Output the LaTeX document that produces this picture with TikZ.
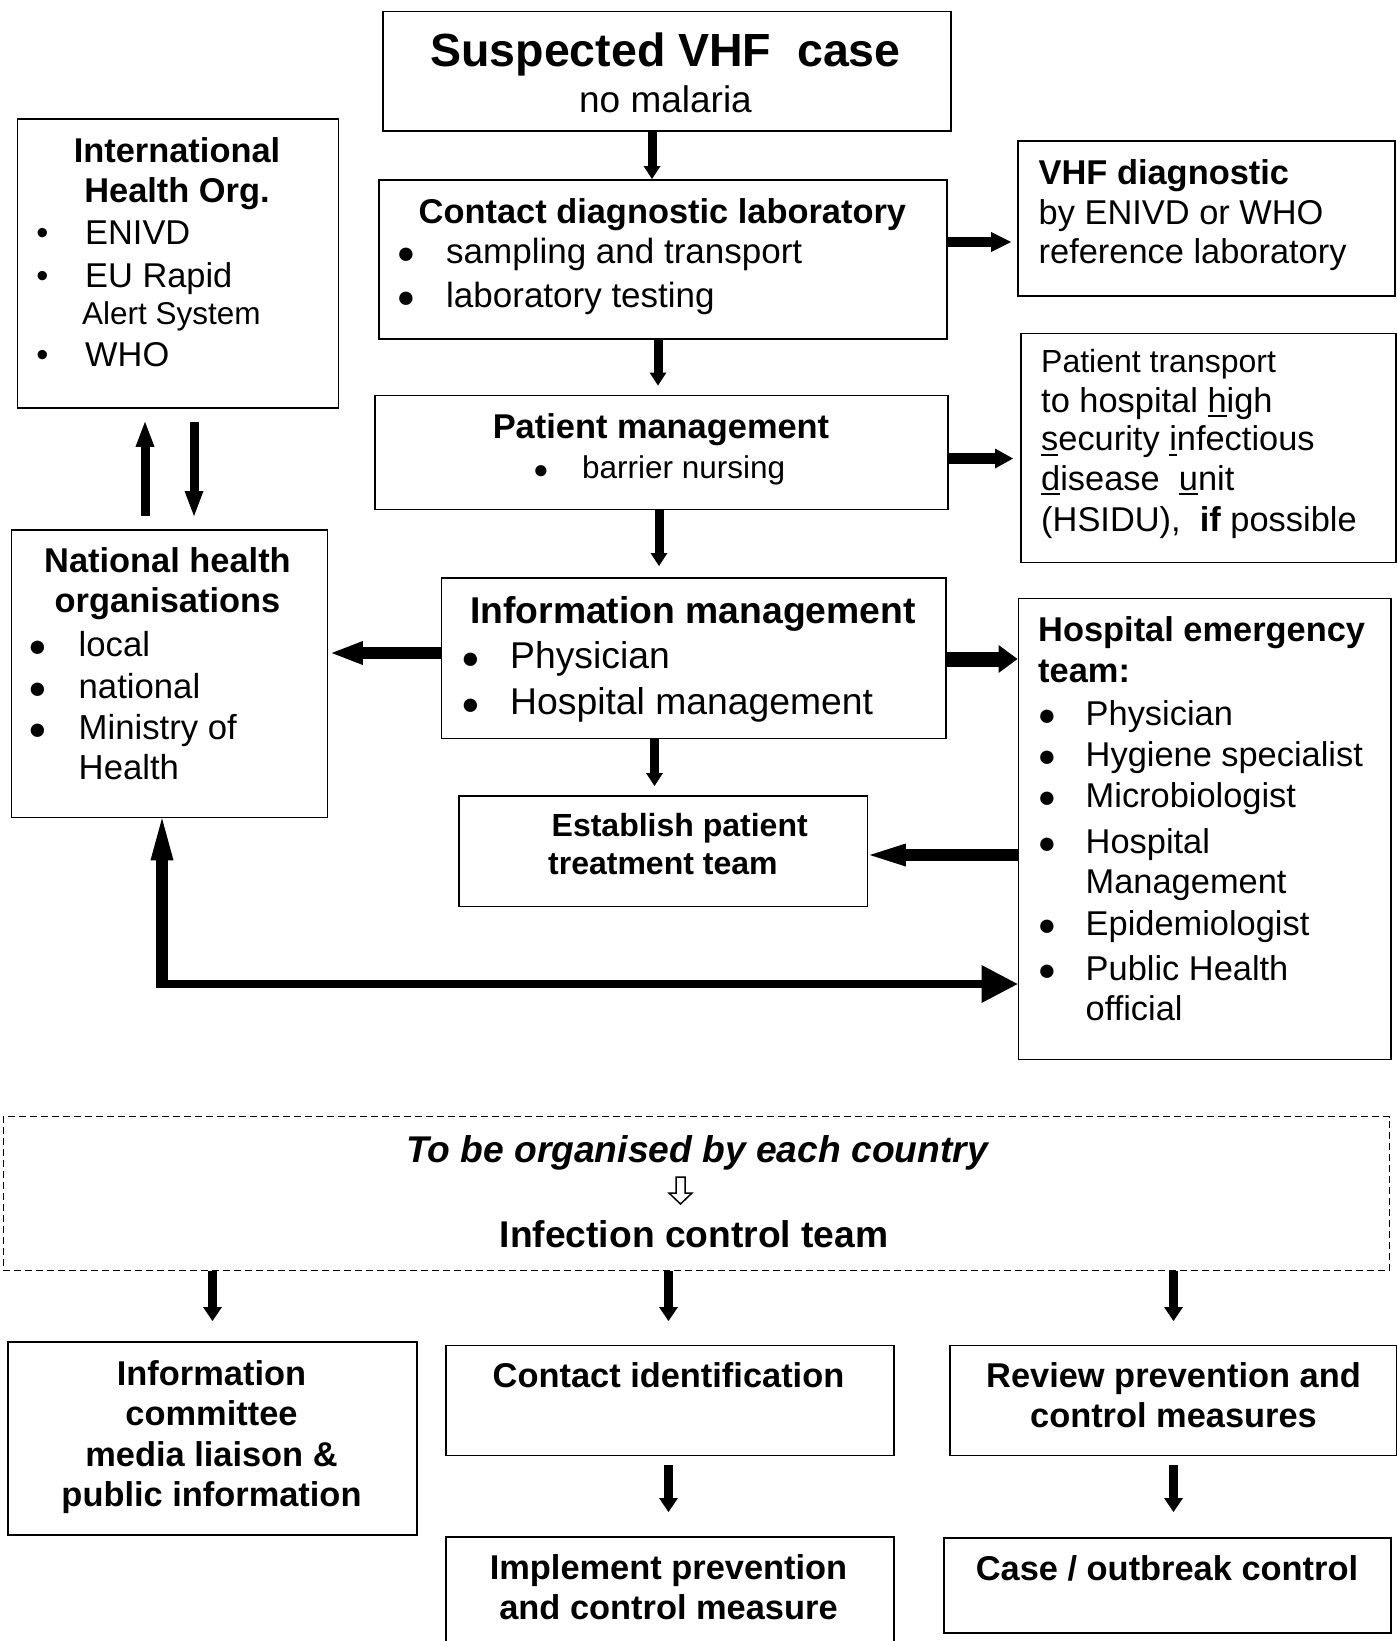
\documentclass[tikz,border=0pt]{standalone}
\usepackage{fontspec}
\setmainfont{Liberation Sans}
\usetikzlibrary{arrows.meta,calc}
\newcommand\fsz[1]{\fontsize{#1pt}{#1pt}\selectfont}
\newcommand\myul[1]{\setbox0\hbox{#1}\rlap{\rule[-5pt]{\wd0}{2pt}}\box0}
\begin{document}
\begin{tikzpicture}[x=1pt,y=-1pt,
  box/.style={draw,line width=1.8pt,rectangle,inner sep=0pt,anchor=north west},
  dbox/.style={box,line width=1.4pt,dash pattern=on 7pt off 4pt},
  tc/.style={inner sep=0pt,anchor=base,font=\fsz{34.4}},
  tl/.style={inner sep=0pt,anchor=base west,font=\fsz{34.4}},
  bc/.style={tc,font=\fsz{34.4}\bfseries},
  bl/.style={tl,font=\fsz{34.4}\bfseries},
  bu/.style={inner sep=0pt,anchor=base,font=\fsz{31}},
  arr/.style n args={3}{line width=#1,-{Triangle[length=#2,width=#3,line width=0pt]}}
]
\useasboundingbox (0,0) rectangle (1397,1641);
\fill[white] (0,0) rectangle (1397,1641);

% ---------- boxes ----------
\node[box,minimum width=568pt,minimum height=119.5pt] (susp) at (382,10.5) {};
\node[box,minimum width=568pt,minimum height=159pt] (contact) at (378,179) {};
\node[box,minimum width=573pt,minimum height=114pt] (pm) at (374,394.5) {};
\node[box,minimum width=504.5pt,minimum height=160.5pt] (info) at (440.5,577) {};
\node[box,minimum width=408.5pt,minimum height=110.5pt] (est) at (458,795) {};
\node[box,minimum width=377pt,minimum height=155pt] (vhf) at (1017,140) {};
\node[box,minimum width=375pt,minimum height=229pt] (pt) at (1020,332.5) {};
\node[box,minimum width=321pt,minimum height=289pt] (intl) at (16.5,118) {};
\node[box,minimum width=316pt,minimum height=287.5pt] (nat) at (10.5,529) {};
\node[box,minimum width=372.5pt,minimum height=461pt] (het) at (1017.5,597.5) {};
\node[dbox,minimum width=1386.5pt,minimum height=154pt] (dash) at (2.5,1116) {};
\node[box,minimum width=409pt,minimum height=193pt] (ic) at (7,1341) {};
\node[box,minimum width=448pt,minimum height=110pt] (cid) at (445,1344.5) {};
\node[box,minimum width=446.5pt,minimum height=110pt] (rev) at (949,1344.5) {};
\node[box,minimum width=448pt,minimum height=115pt] (imp) at (445,1536) {};
\node[box,minimum width=447pt,minimum height=95pt] (case) at (943,1537) {};

% ---------- texts ----------
\node[tc,font=\fsz{46.5}\bfseries] (s1) at (665.5,66.5) {Suspected VHF\ \ case};
\node[tc,font=\fsz{37}] (s2) at (665.5,112.5) {no malaria};

\node[bc] (c1) at (662.4,223) {Contact diagnostic laboratory};
\node[bu] (c2) at (406,263) {●};
\node[tl,font=\fsz{35}] (c3) at (446,263) {sampling and transport};
\node[bu] (c4) at (406,307) {●};
\node[tl,font=\fsz{35}] (c5) at (446,307) {laboratory testing};

\node[bc] (p1) at (661,438) {Patient management};
\node[bu,font=\fsz{26}] (p2) at (541,478) {●};
\node[tl,font=\fsz{31.5}] (p3) at (582,478) {barrier nursing};

\node[bc,font=\fsz{37.3}\bfseries] (i1) at (693,623) {Information management};
\node[bu] (i2) at (470.5,668) {●};
\node[tl,font=\fsz{37.3}] (i3) at (510,668) {Physician};
\node[bu] (i4) at (470.5,714.5) {●};
\node[tl,font=\fsz{37.3}] (i5) at (510,714.5) {Hospital management};

\node[bl,font=\fsz{32}\bfseries] (e1) at (551.5,836) {Establish patient};
\node[bl,font=\fsz{32}\bfseries] (e2) at (548,874) {treatment team};

\node[bl] (v1) at (1038.5,184) {VHF diagnostic};
\node[tl] (v2) at (1038.5,224) {by ENIVD or WHO};
\node[tl] (v3) at (1038.5,263) {reference laboratory};

\node[tl,font=\fsz{32}] (q1) at (1041,372) {Patient transport};
\node[tl] (q2) at (1041,412) {to hospital \myul{h}igh};
\node[tl] (q3) at (1041,450.5) {\myul{s}ecurity \myul{i}nfectious};
\node[tl] (q4) at (1041,490) {\myul{d}isease\ \ \myul{u}nit};
\node[tl] (q5) at (1041,531) {(HSIDU),\ \ \textbf{if} possible};

\node[bc] (n1) at (177,162.5) {International};
\node[bc] (n2) at (177,202) {Health Org.};
\node[tc] (n3) at (42.5,244.5) {•};
\node[tl] (n4) at (85,244.5) {ENIVD};
\node[tc] (n5) at (42.5,287.5) {•};
\node[tl] (n6) at (85,287.5) {EU Rapid};
\node[tl,font=\fsz{31.5}] (n7) at (82,324) {Alert System};
\node[tc] (n8) at (42.5,366) {•};
\node[tl] (n9) at (85,366) {WHO};

\node[bc] (m1) at (167.5,572) {National health};
\node[bc] (m2) at (167.5,612.5) {organisations};
\node[bu] (m3) at (37.5,656) {●};
\node[tl,font=\fsz{34.7}] (m4) at (78.5,656) {local};
\node[bu] (m5) at (37.5,698) {●};
\node[tl,font=\fsz{34.7}] (m6) at (78.5,698) {national};
\node[bu] (m7) at (37.5,739.5) {●};
\node[tl,font=\fsz{34.7}] (m8) at (78.5,739.5) {Ministry of};
\node[tl,font=\fsz{34.7}] (m9) at (78.5,779) {Health};

\node[bl] (h1) at (1038,641) {Hospital emergency};
\node[bl] (h2) at (1038,682) {team:};
\node[bu] (h3) at (1047,725) {●};
\node[tl] (h4) at (1085.5,725) {Physician};
\node[bu] (h5) at (1047,766) {●};
\node[tl] (h6) at (1085.5,766) {Hygiene specialist};
\node[bu] (h7) at (1047,807) {●};
\node[tl] (h8) at (1085.5,807) {Microbiologist};
\node[bu] (h9) at (1047,853) {●};
\node[tl] (h10) at (1085.5,853) {Hospital};
\node[tl] (h11) at (1085.5,893) {Management};
\node[bu] (h12) at (1047,935) {●};
\node[tl] (h13) at (1085.5,935) {Epidemiologist};
\node[bu] (h14) at (1047,980) {●};
\node[tl] (h15) at (1085.5,980) {Public Health};
\node[tl] (h16) at (1085.5,1020) {official};

\node[tc,font=\fsz{37.2}\bfseries\itshape] (d1) at (697,1162.5) {To be organised by each country};
\node[tc,font=\fsz{37.2}\bfseries] (d2) at (694,1247) {Infection control team};

\node[bc] (k1) at (211.5,1385) {Information};
\node[bc] (k2) at (211.5,1425.5) {committee};
\node[bc] (k3) at (211.5,1466.5) {media liaison \&};
\node[bc] (k4) at (211.5,1506.5) {public information};
\node[bc] (k5) at (668.5,1387) {Contact identification};
\node[bc] (k6) at (1173.5,1387) {Review prevention and};
\node[bc] (k7) at (1173.5,1427) {control measures};
\node[bc] (k8) at (668.5,1579) {Implement prevention};
\node[bc] (k9) at (668.5,1619) {and control measure};
\node[bc] (k10) at (1167,1580) {Case / outbreak control};

% hollow small arrow inside dashed box
\draw[line width=1.5pt,fill=white,line join=miter]
  (676,1177) -- (685,1177) -- (685,1193) -- (692,1193) -- (680.5,1204)
  -- (669,1193) -- (676,1193) -- cycle;

% ---------- connectors ----------
\draw[arr={9pt}{13pt}{17pt}] (susp.south -| 652,0) -- (contact.north -| 652,0);
\draw[arr={9pt}{13pt}{17pt},shorten >=9pt] (contact.south -| 658,0) -- (pm.north -| 658,0);
\draw[arr={9pt}{13pt}{17pt},shorten >=11pt] (pm.south -| 659,0) -- (info.north -| 659,0);
\draw[arr={9pt}{13pt}{17pt},shorten >=9pt] (info.south -| 654.5,0) -- (est.north -| 654.5,0);

\draw[arr={9pt}{25pt}{19pt},shorten <=13pt,shorten >=13pt] (nat.north -| 145,0) -- (intl.south -| 145,0);
\draw[arr={9pt}{25pt}{19pt},shorten <=13pt,shorten >=13pt] (intl.south -| 194,0) -- (nat.north -| 194,0);

\draw[arr={10pt}{20pt}{20pt},shorten >=6pt] (contact.east |- 0,242) -- (vhf.west |- 0,242);
\draw[arr={11pt}{18pt}{20pt},shorten >=7pt] (pm.east |- 0,458.5) -- (pt.west |- 0,458.5);

\draw[arr={12.5pt}{31pt}{24pt},shorten >=3.5pt] (info.west |- 0,653) -- (nat.east |- 0,653);
\draw[arr={15pt}{19pt}{28pt}] (info.east |- 0,659) -- (het.west |- 0,659);
\draw[arr={12pt}{36pt}{23pt},shorten >=1.5pt] (het.west |- 0,855) -- (est.east |- 0,855);

\coordinate (Lc) at (162,984);
\draw[arr={12pt}{42pt}{23pt}] ($(Lc)+(0,4)$) -- (nat.south -| Lc);
\draw[arr={8pt}{36pt}{38pt}] ($(Lc)+(-6,0)$) -- (het.west |- Lc);

\draw[arr={9pt}{14pt}{19pt},shorten >=20pt] (dash.south -| 212.5,0) -- (ic.north -| 212.5,0);
\draw[arr={9pt}{14pt}{19pt},shorten >=23.5pt] (dash.south -| 668.5,0) -- (cid.north -| 668.5,0);
\draw[arr={9pt}{14pt}{19pt},shorten >=23.5pt] (dash.south -| 1173.5,0) -- (rev.north -| 1173.5,0);

\draw[arr={9pt}{14pt}{19pt},shorten <=9pt,shorten >=24pt] (cid.south -| 668.5,0) -- (imp.north -| 668.5,0);
\draw[arr={9pt}{14pt}{19pt},shorten <=9pt,shorten >=25pt] (rev.south -| 1173.5,0) -- (case.north -| 1173.5,0);
\end{tikzpicture}
\end{document}
